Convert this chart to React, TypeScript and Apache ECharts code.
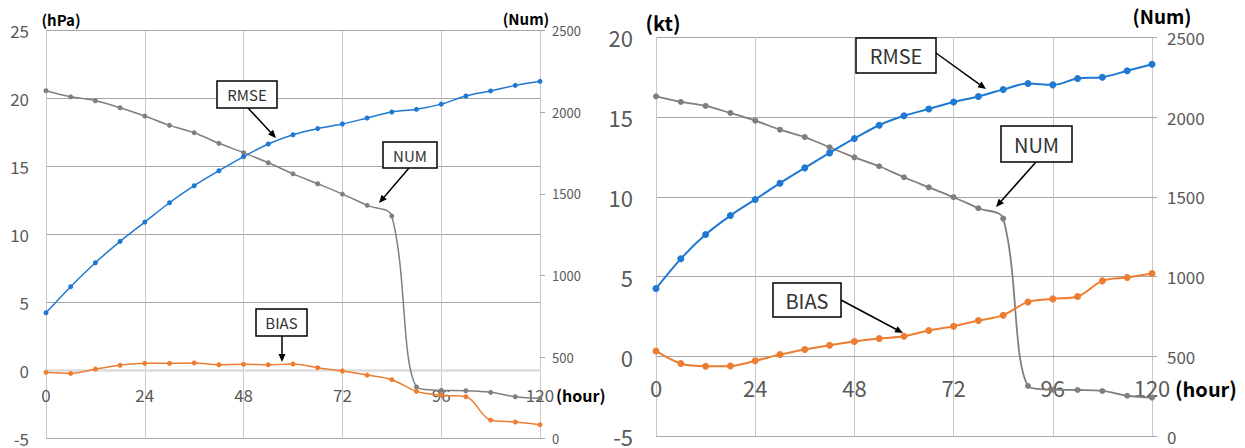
import React, { useEffect, useRef } from "react";
import * as echarts from "echarts";

const hours = [0, 6, 12, 18, 24, 30, 36, 42, 48, 54, 60, 66, 72, 78, 84, 90, 96, 102, 108, 114, 120];

// Left panel (pressure, hPa)
const hpaRmse = [4.26, 6.18, 7.94, 9.51, 10.93, 12.35, 13.6, 14.7, 15.74, 16.67, 17.35, 17.8, 18.14, 18.58, 19.02, 19.22, 19.6, 20.2, 20.57, 20.98, 21.28];
const hpaBias = [-0.12, -0.2, 0.12, 0.4, 0.54, 0.54, 0.57, 0.44, 0.47, 0.44, 0.49, 0.22, -0.02, -0.32, -0.66, -1.52, -1.8, -1.91, -3.63, -3.77, -3.97];
const hpaNum = [2132, 2095, 2071, 2028, 1977, 1920, 1875, 1810, 1752, 1691, 1623, 1562, 1499, 1430, 1364, 317, 296, 294, 284, 257, 247];

// Right panel (wind, kt)
const ktRmse = [4.26, 6.12, 7.64, 8.83, 9.84, 10.86, 11.82, 12.76, 13.66, 14.49, 15.08, 15.51, 15.95, 16.29, 16.73, 17.1, 17.02, 17.42, 17.5, 17.9, 18.31];
const ktBias = [0.35, -0.44, -0.61, -0.59, -0.27, 0.12, 0.44, 0.71, 0.94, 1.13, 1.27, 1.63, 1.9, 2.25, 2.59, 3.42, 3.61, 3.76, 4.74, 4.95, 5.2];
const ktNum = [2130, 2095, 2070, 2026, 1978, 1921, 1875, 1811, 1748, 1692, 1623, 1560, 1498, 1429, 1364, 315, 292, 290, 284, 254, 242];

const hourTicks = { min: 0, max: 120, interval: 24 };
const hpaTicks = { min: -5, max: 25, interval: 5 };
const ktTicks = { min: -5, max: 20, interval: 5 };
const numTicks = { min: 0, max: 2500, interval: 500 };

const FONT = "'Noto Sans CJK JP', 'Noto Sans', sans-serif";
const BLUE = "#1f78d1";
const ORANGE = "#ed7d31";
const GRAY = "#7f7f7f";
const LABEL = "#595959";
const HGRID = "#a6a6a6";
const VGRID = "#c8c8c8";

const pairs = (vals: number[]) => hours.map((h, i) => [h, vals[i]]);

function arrow(x1: number, y1: number, x2: number, y2: number, len = 8, w = 3.5) {
  const dx = x2 - x1, dy = y2 - y1;
  const L = Math.hypot(dx, dy);
  const ux = dx / L, uy = dy / L;
  const bx = x2 - ux * len, by = y2 - uy * len;
  return [
    { type: "line", z: 100, shape: { x1, y1, x2: bx, y2: by }, style: { stroke: "#000", lineWidth: 1.5 } },
    {
      type: "polygon", z: 100,
      shape: { points: [[x2, y2], [bx - uy * w, by + ux * w], [bx + uy * w, by - ux * w]] },
      style: { fill: "#000" },
    },
  ];
}

function box(text: string, x: number, y: number, w: number, h: number, fs: number) {
  return [
    { type: "rect", z: 100, shape: { x, y, width: w, height: h }, style: { fill: "#fff", stroke: "#000", lineWidth: 1.5 } },
    {
      type: "text", z: 101, x: x + w / 2, y: y + h / 2,
      style: { text, fontSize: fs, fontFamily: FONT, fill: "#333", align: "center", verticalAlign: "middle" },
    },
  ];
}

function label(text: string, x: number, y: number, fs: number, align = "center", bold = true, color = "#000") {
  return {
    type: "text", z: 100, x, y,
    style: { text, fontSize: fs, fontFamily: FONT, fontWeight: bold ? "bold" : "normal", fill: color, align, verticalAlign: "middle" },
  };
}

export default function App() {
  const ref = useRef<HTMLDivElement>(null);
  useEffect(() => {
    if (!ref.current) return;
    const chart = echarts.init(ref.current, undefined, { renderer: "svg" });

    // offset lifts the x axis from the grid bottom up to the y = 0 line
    const xAxis = (gridIndex: number, fs: number, margin: number, offset: number, zeroColor: string, zeroWidth: number) => ({
      type: "value", gridIndex, position: "bottom", offset, ...hourTicks,
      axisLine: { show: true, onZero: false, lineStyle: { color: zeroColor, width: zeroWidth } },
      axisTick: { show: false },
      axisLabel: { color: LABEL, fontSize: fs, fontFamily: FONT, margin },
      splitLine: { show: true, lineStyle: { color: VGRID, width: 1 } },
    });

    const yLeft = (gridIndex: number, ticks: any, fs: number, margin: number) => ({
      type: "value", gridIndex, position: "left", ...ticks,
      axisLine: { show: false }, axisTick: { show: false },
      axisLabel: { color: LABEL, fontSize: fs, fontFamily: FONT, margin },
      splitLine: { show: true, lineStyle: { color: HGRID, width: 1 } },
    });

    const yRight = (gridIndex: number, fs: number, margin: number) => ({
      type: "value", gridIndex, position: "right", ...numTicks,
      axisLine: { show: false },
      axisTick: { show: true, length: 5, lineStyle: { color: HGRID } },
      axisLabel: { color: LABEL, fontSize: fs, fontFamily: FONT, margin, formatter: (v: number) => String(v) },
      splitLine: { show: false },
    });

    const line = (name: string, data: number[], x: number, y: number, color: string, size: number, width: number) => ({
      type: "line", name, xAxisIndex: x, yAxisIndex: y, data: pairs(data),
      smooth: 0.35, symbol: "circle", symbolSize: size, showSymbol: true,
      lineStyle: { color, width }, itemStyle: { color },
    });

    chart.setOption({
      animation: false,
      backgroundColor: "#fff",
      textStyle: { fontFamily: FONT },
      grid: [
        { left: 46, right: 705, top: 30.7, bottom: 9.3, containLabel: false, outerBoundsMode: "none" },
        { left: 656, right: 93, top: 37.3, bottom: 11.7, containLabel: false, outerBoundsMode: "none" },
      ],
      xAxis: [xAxis(0, 17, 15, -68, "#dcdcdc", 2.5), xAxis(1, 22, 20, -80, HGRID, 1)],
      yAxis: [yLeft(0, hpaTicks, 17, 17), yRight(0, 13, 12), yLeft(1, ktTicks, 22, 23), yRight(1, 17, 15)],
      series: [
        line("NUM", hpaNum, 0, 1, GRAY, 5, 1.5),
        line("BIAS", hpaBias, 0, 0, ORANGE, 5, 1.5),
        line("RMSE", hpaRmse, 0, 0, BLUE, 5, 1.5),
        line("NUM", ktNum, 1, 3, GRAY, 6, 1.8),
        line("BIAS", ktBias, 1, 2, ORANGE, 7, 2),
        line("RMSE", ktRmse, 1, 2, BLUE, 7, 2),
      ],
      graphic: [
        label("(hPa)", 61, 19, 15),
        label("(Num)", 526, 18, 15),
        label("(hour)", 556, 395, 16, "left"),
        label("(kt)", 663, 22, 20),
        label("(Num)", 1162, 15, 19),
        label("(hour)", 1175, 388, 20, "left"),
        ...arrow(248, 108, 276, 138),
        ...box("RMSE", 217, 81, 60, 27, 15),
        ...arrow(409, 168, 379, 203),
        ...box("NUM", 383, 142, 54, 26, 15),
        ...arrow(282, 336, 282, 362),
        ...box("BIAS", 256, 309, 51, 27, 15),
        ...arrow(936, 53, 986, 89),
        ...box("RMSE", 856, 38, 80, 35, 20),
        ...arrow(1036, 162, 996, 207),
        ...box("NUM", 1001, 126, 71, 36, 20),
        ...arrow(841, 300, 903, 333),
        ...box("BIAS", 773, 283, 68, 34, 20),
      ],
    });
    return () => chart.dispose();
  }, []);

  return (
    <div
      ref={ref}
      style={{ position: "fixed", left: 0, top: 0, width: 1245, height: 448, background: "#fff" }}
    />
  );
}
